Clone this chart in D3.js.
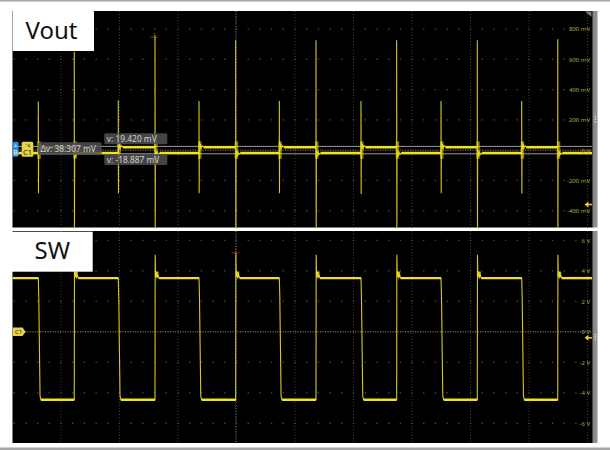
<!DOCTYPE html>
<html><head><meta charset="utf-8">
<script src="https://cdn.jsdelivr.net/npm/d3@7"></script>
<style>body{margin:0;background:#fff;}svg{display:block}</style>
</head><body><svg id="c" width="610" height="450"></svg>
<script>
// ---------- data (time in horizontal divisions) ----------
const timeDivs = [1,2,3,4,5,6,7,8,9,10];
const voutTicks = [-400,-200,0,200,400,600,800];
const voutTickLabels = ["-400 mV","-200 mV","0 V","200 mV","400 mV","600 mV","800 mV"];
const swTicks = [-6,-4,-2,0,2,4,6];
const swTickLabels = ["-6 V","-4 V","-2 V","0 V","2 V","4 V","6 V"];

const riseEdges = [1.227, 2.607, 3.986, 5.359, 6.738, 8.116, 9.491];
const fallEdges = [0.612, 1.979, 3.359, 4.732, 6.128, 7.496, 8.875];

const swHigh = 3.52, swLow = -4.46;                         // V
const swOvershoot = [3.96, 5.05, 5.16, 5.05, 5.05, 5.05, 5.05];
const swRiseRingDt = [0.01, 0.02, 0.035, 0.05, 0.07];
const swRiseRingV  = [3.72, 3.95, 3.57, 3.72, 3.52];
const swFallShapeDt = [0.008, 0.03, 0.045];
const swFallShapeV  = [2.3, -4.2, -4.46];

const voutHigh = 19.420, voutLow = -18.887;                 // mV
const riseSpikeUp   = [649, 759, 726, 726, 726, 726, 733];
const riseSpikeDown = [-620, -620, -620, -620, -620, -620, -620];
const fallSpikeUp   = [322, 330, 325, 325, 325, 325, 325];
const fallSpikeDown = [-284, -284, -284, -284, -290, -284, -286];
const ringDt  = [0.006, 0.015, 0.025, 0.04, 0.055, 0.08];
const ringMv  = [38, -14, 22, -6, 10, 0];

const cursorTexts = ["Δv: 38.307 mV", "v: 19.420 mV", "v: -18.887 mV"];
const triggerT = 3.986;
const markerTop = [2.595, 746];   // div, mV
const markerBot = [3.986, 5.17];  // div, V

// ---------- layout ----------
const svg = d3.select("#c");
const L = 12.5, R = 592;
const P1 = {top: 11, bottom: 227.5};
const P2 = {top: 231, bottom: 443};

const x = d3.scaleLinear().domain([1, 10]).range([61, 587.5]);
const yV = d3.scaleLinear().domain([-400, 800]).range([210.7, 29]);
const yS = d3.scaleLinear().domain([-6, 6]).range([423.3, 240.3]);
const t0 = x.invert(L), t1 = x.invert(R);

// frame lines
svg.append("rect").attr("x",0).attr("y",0).attr("width",610).attr("height",1.5).attr("fill","#a6a6a6");
svg.append("rect").attr("x",0).attr("y",447.5).attr("width",610).attr("height",2.5).attr("fill","#a6a6a6");

const defs = svg.append("defs");
[["clip1",P1],["clip2",P2]].forEach(([id,p])=>{
  defs.append("clipPath").attr("id",id).append("rect")
    .attr("x",L).attr("y",p.top).attr("width",R-L).attr("height",p.bottom-p.top);
});

function panel(p, clipId, yScale, ticks, labels, zeroVal) {
  svg.append("rect").attr("x",L).attr("y",p.top).attr("width",R-L).attr("height",p.bottom-p.top).attr("fill","#000");
  svg.append("rect").attr("x",R).attr("y",p.top).attr("width",5.5).attr("height",p.bottom-p.top).attr("fill","#8e8e8e");
  svg.append("rect").attr("x",R).attr("y",p.top).attr("width",1.2).attr("height",p.bottom-p.top).attr("fill","#4a4a4a");
  const mid = (p.top+p.bottom)/2;
  [-2.5,0,2.5].forEach(d=>svg.append("rect").attr("x",594.6).attr("y",mid+d-0.6).attr("width",1.4).attr("height",1.2).attr("fill","#e6e6e6"));
  const g = svg.append("g").attr("clip-path",`url(#${clipId})`);
  g.selectAll(null).data(timeDivs).join("line")
    .attr("x1",d=>x(d)).attr("x2",d=>x(d)).attr("y1",p.top).attr("y2",p.bottom)
    .attr("stroke","#3a3a3a").attr("stroke-width",1).attr("stroke-dasharray","1,2");
  const minor = d3.range(0, 10.01, 0.2);
  ticks.filter(v=>v!==zeroVal).forEach(v=>{
    g.selectAll(null).data(minor).join("rect")
      .attr("x",d=>x(d)-0.6).attr("y",yScale(v)-0.6).attr("width",1.3).attr("height",1.3).attr("fill","#4e4e4e");
  });
  g.append("line").attr("x1",L).attr("x2",R).attr("y1",yScale(zeroVal)).attr("y2",yScale(zeroVal))
    .attr("stroke","#8a8a8a").attr("stroke-width",1).attr("stroke-dasharray","1.2,1.3");
  g.append("line").attr("x1",x(triggerT)).attr("x2",x(triggerT)).attr("y1",p.top).attr("y2",p.bottom)
    .attr("stroke","#6a6a6a").attr("stroke-width",1).attr("stroke-dasharray","1,1.5");
  const ax = d3.axisLeft(yScale).tickValues(ticks).tickFormat((d,i)=>labels[i]).tickSize(0).tickPadding(0);
  const ag = svg.append("g").attr("transform","translate(590,0)").call(ax);
  ag.select(".domain").remove();
  ag.selectAll("text").attr("fill","#b4a53a").attr("font-size","6px").attr("font-family","'Noto Sans',sans-serif");
  return g;
}

const g1 = panel(P1,"clip1",yV,voutTicks,voutTickLabels,0);
const g2 = panel(P2,"clip2",yS,swTicks,swTickLabels,0);

svg.append("path").attr("d","M585,11.5 L591.5,11.5 L591.5,17 Z").attr("fill","#777");

const events = [];
fallEdges.forEach((t,i)=>events.push({t,type:"fall",i}));
riseEdges.forEach((t,i)=>events.push({t,type:"rise",i}));
events.sort((a,b)=>a.t-b.t);

// ---------- SW waveform ----------
const sw = [[t0, swHigh]];
const swFlat = [];
let segStart = t0, segLevel = swHigh;
events.forEach(e=>{
  if (e.type==="fall") {
    swFlat.push([segStart, e.t, segLevel]);
    sw.push([e.t, swHigh]);
    swFallShapeDt.forEach((dt,k)=>sw.push([e.t+dt, swFallShapeV[k]]));
    segStart = e.t + swFallShapeDt[swFallShapeDt.length-1]; segLevel = swLow;
  } else {
    swFlat.push([segStart, e.t, segLevel]);
    sw.push([e.t, swLow], [e.t+0.003, swOvershoot[e.i]]);
    swRiseRingDt.forEach((dt,k)=>sw.push([e.t+dt, swRiseRingV[k]]));
    segStart = e.t + swRiseRingDt[swRiseRingDt.length-1]; segLevel = swHigh;
  }
});
sw.push([t1, segLevel]);
swFlat.push([segStart, t1, segLevel]);

const lineS = d3.line().x(d=>x(d[0])).y(d=>yS(d[1]));
g2.append("path").attr("d",lineS(sw)).attr("fill","none").attr("stroke","#d8c81c").attr("stroke-width",1.1);
g2.selectAll(null).data(swFlat).join("line")
  .attr("x1",d=>x(d[0])).attr("x2",d=>x(d[1])).attr("y1",d=>yS(d[2])).attr("y2",d=>yS(d[2]))
  .attr("stroke","#f2e21e").attr("stroke-width",2.4);
g2.selectAll(null).data(riseEdges).join("rect")
  .attr("x",d=>x(d)).attr("y",d=>yS(swRiseRingV[1])).attr("width",3.5).attr("height",d=>yS(swRiseRingV[2])-yS(swRiseRingV[1]))
  .attr("fill","#f2e21e").attr("opacity",0.8);

// ---------- Vout waveform ----------
const vo = [[t0, voutLow]];
const voFlat = [];
segStart = t0; segLevel = voutLow;
events.forEach(e=>{
  voFlat.push([segStart, e.t, segLevel]);
  if (e.type==="fall") {
    vo.push([e.t, voutLow], [e.t, fallSpikeUp[e.i]], [e.t+0.003, fallSpikeDown[e.i]]);
    ringDt.forEach((dt,k)=>vo.push([e.t+dt, voutHigh+ringMv[k]]));
    segLevel = voutHigh;
  } else {
    vo.push([e.t, voutHigh], [e.t, riseSpikeUp[e.i]], [e.t+0.003, riseSpikeDown[e.i]]);
    ringDt.forEach((dt,k)=>vo.push([e.t+dt, voutLow-ringMv[k]]));
    segLevel = voutLow;
  }
  segStart = e.t + ringDt[ringDt.length-1];
});
vo.push([t1, segLevel]);
voFlat.push([segStart, t1, segLevel]);

[voutHigh, voutLow].forEach(v=>{
  const yy = yV(v) - 0.8*(v>0?1:-1);
  g1.append("line").attr("x1",L).attr("x2",R).attr("y1",yy).attr("y2",yy)
    .attr("stroke","#9a9a9a").attr("stroke-width",1);
});

const lineV = d3.line().x(d=>x(d[0])).y(d=>yV(d[1]));
g1.append("path").attr("d",lineV(vo)).attr("fill","none").attr("stroke","#d8c81c").attr("stroke-width",1.1);
g1.selectAll(null).data(voFlat).join("line")
  .attr("x1",d=>x(d[0])).attr("x2",d=>x(d[1])).attr("y1",d=>yV(d[2])).attr("y2",d=>yV(d[2]))
  .attr("stroke","#f2e21e").attr("stroke-width",2.4);
g1.selectAll(null).data(events).join("rect")
  .attr("x",d=>x(d.t)-1).attr("y",d=>yV(voutHigh+ringMv[0]))
  .attr("width",3.5).attr("height",d=>yV(voutLow-ringMv[0])-yV(voutHigh+ringMv[0]))
  .attr("fill","#f2e21e").attr("opacity",0.55);

function marker(cx, cy){
  const gm = svg.append("g").attr("stroke","#c8702c").attr("stroke-width",1).attr("stroke-dasharray","1,1");
  gm.append("line").attr("x1",cx-4).attr("x2",cx+4).attr("y1",cy).attr("y2",cy);
  gm.append("line").attr("x1",cx).attr("x2",cx).attr("y1",cy-4).attr("y2",cy+4);
}
marker(x(markerTop[0]), yV(markerTop[1]));
marker(x(markerBot[0]), yS(markerBot[1]));

const boxes = [
  {x:38, y:142.3, w:63.7, h:12.7, t:cursorTexts[0]},
  {x:104.3, y:133.3, w:63, h:11, t:cursorTexts[1]},
  {x:104.3, y:154, w:63, h:11, t:cursorTexts[2]}
];
boxes.forEach(b=>{
  svg.append("rect").attr("x",b.x).attr("y",b.y).attr("width",b.w).attr("height",b.h).attr("rx",1.5)
    .attr("fill","#505050").attr("fill-opacity",0.85);
  svg.append("text").attr("x",b.x+2.5).attr("y",b.y+b.h/2+3).attr("font-size","8.4px")
    .attr("font-family","'Noto Sans',sans-serif").attr("fill","#d2d2d2").text(b.t);
});

svg.append("rect").attr("x",12.7).attr("y",141.7).attr("width",5.8).attr("height",15).attr("rx",1.5).attr("fill","#2f8ddf");
svg.append("text").attr("x",15.6).attr("y",147).attr("text-anchor","middle").attr("font-size","4px").attr("fill","#d8ecff").attr("font-family","'Noto Sans',sans-serif").text("A");
svg.append("text").attr("x",15.6).attr("y",155).attr("text-anchor","middle").attr("font-size","7px").attr("fill","#fff").attr("font-family","'Noto Sans',sans-serif").text("B");
svg.append("rect").attr("x",21.7).attr("y",141.7).attr("width",11.6).attr("height",15).attr("rx",1.5).attr("fill","#e6d448");
svg.append("text").attr("x",27.5).attr("y",147).attr("text-anchor","middle").attr("font-size","4px").attr("fill","#333").attr("font-family","'Noto Sans',sans-serif").text("⌃A");
svg.append("text").attr("x",27.5).attr("y",155).attr("text-anchor","middle").attr("font-size","7.5px").attr("fill","#222").attr("font-family","'Noto Sans',sans-serif").text("C1");

const c1y = yS(0);
svg.append("path").attr("d",`M12.7,${c1y-4.2} L22.5,${c1y-4.2} L25.5,${c1y} L22.5,${c1y+4.2} L12.7,${c1y+4.2} Z`).attr("fill","#e6d448");
svg.append("text").attr("x",18.5).attr("y",c1y+2.3).attr("text-anchor","middle").attr("font-size","6px").attr("fill","#222").attr("font-family","'Noto Sans',sans-serif").text("C1");

function arrow(y){
  svg.append("path").attr("d",`M584.5,${y} L588.5,${y-3} L588.5,${y+3} Z`).attr("fill","#e8d020");
  svg.append("line").attr("x1",588).attr("x2",592).attr("y1",y).attr("y2",y).attr("stroke","#e8d020").attr("stroke-width",1.5);
}
arrow(204.5);
arrow(337.8);

function title(x0,y0,w,h,t,baseline,tx){
  svg.append("rect").attr("x",x0).attr("y",y0).attr("width",w).attr("height",h).attr("fill","#fff");
  svg.append("text").attr("x",tx).attr("y",baseline).attr("font-size","24px")
    .attr("font-family","'Noto Sans','Open Sans',sans-serif").attr("fill","#111").text(t);
}
title(12.7,11,81.3,40,"Vout",39.2,25.5);
title(12,231.7,80.7,40,"SW",259.2,34.5);
</script></body></html>
